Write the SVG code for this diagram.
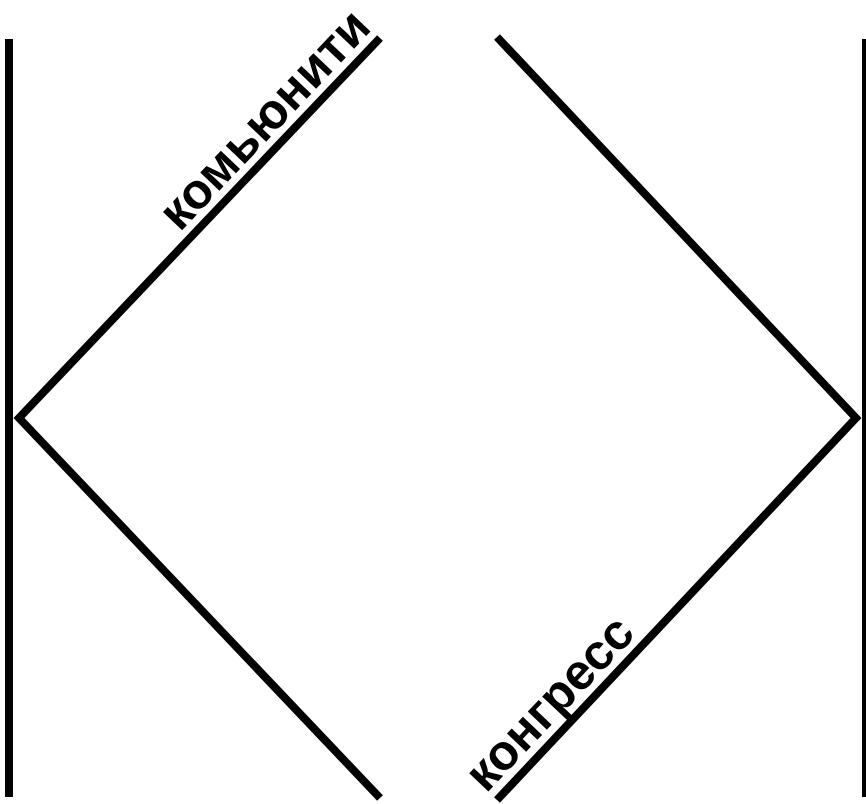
<svg xmlns="http://www.w3.org/2000/svg" width="866" height="804" viewBox="0 0 866 804">
<style>
.ln{stroke:#000;stroke-width:8;fill:none;stroke-linecap:butt}
.lbl{font-family:"Liberation Sans",Arial,sans-serif;font-weight:bold;font-size:50px;fill:#000}
</style>
<rect width="866" height="804" fill="#fff"/>
<g id="connectors">
<line class="ln" x1="9" y1="39" x2="9" y2="797"/>
<line class="ln" x1="866" y1="39" x2="866" y2="797"/>
<path class="ln" d="M380,38 L19,418 L380,798"/>
<path class="ln" d="M497,37 L856,418 L497,800"/>
</g>
<g id="label-community">
<text class="lbl" text-anchor="end" transform="translate(373,29) rotate(-46.5)">комьюнити</text>
</g>
<g id="label-congress">
<text class="lbl" text-anchor="start" transform="translate(486,794) rotate(-46.5)">конгресс</text>
</g>
</svg>
